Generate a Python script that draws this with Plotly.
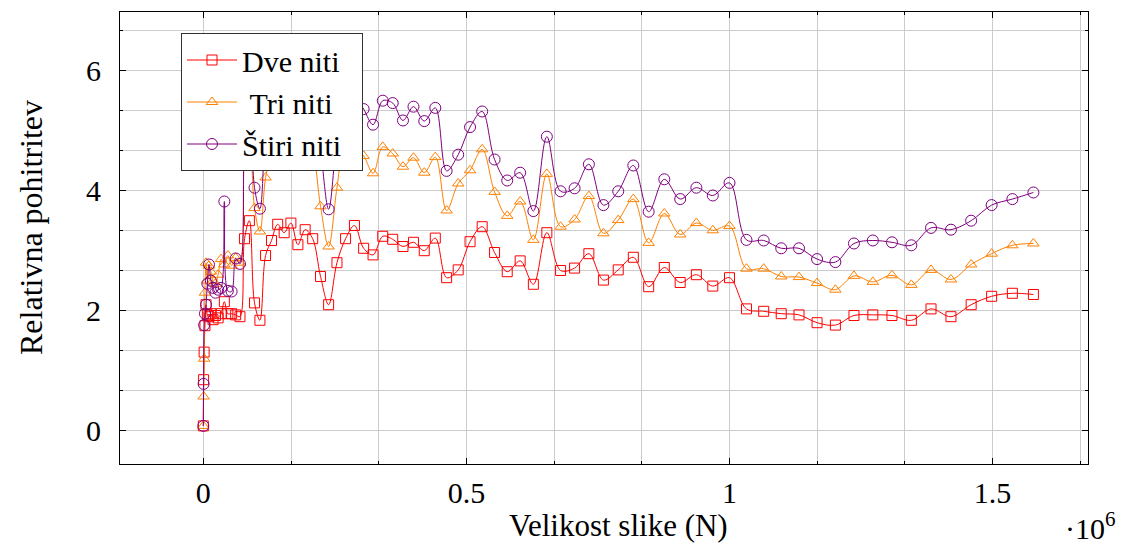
import plotly.graph_objects as go

# Image size N (pixels) for every measurement
velikost = [64, 576, 1600, 3136, 5184, 7744, 10816, 14400, 18496, 23104,
            28224, 33856, 40000, 46656, 53824, 61504, 69696, 78400, 87616, 97344,
            107584, 118336, 129600, 141376, 153664, 166464, 179776, 193600, 207936, 222784,
            238144, 254016, 270400, 287296, 304704, 322624, 341056, 360000, 379456, 399424,
            419904, 440896, 462400, 484416, 506944, 529984, 553536, 577600, 602176, 627264,
            652864, 678976, 705600, 732736, 760384, 788544, 817216, 846400, 876096, 906304,
            937024, 968256, 1000000, 1032256, 1065024, 1098304, 1132096, 1166400, 1201216, 1236544,
            1272384, 1308736, 1345600, 1382976, 1420864, 1459264, 1498176, 1537600, 1577536]

dve_niti = [0.08, 0.85, 1.31, 1.75, 2.10, 1.93, 1.90, 1.95, 1.85, 1.92,
            1.88, 1.95, 2.15, 1.95, 1.95, 1.93, 1.90, 3.20, 3.50, 2.13,
            1.84, 2.92, 3.17, 3.44, 3.30, 3.46, 3.10, 3.35, 3.20, 2.57,
            2.10, 2.80, 3.20, 3.42, 3.04, 2.93, 3.24, 3.19, 3.07, 3.14,
            3.00, 3.21, 2.55, 2.68, 3.15, 3.40, 2.97, 2.65, 2.83, 2.44,
            3.30, 2.67, 2.71, 2.95, 2.51, 2.68, 2.89, 2.40, 2.72, 2.47,
            2.60, 2.41, 2.55, 2.03, 1.99, 1.95, 1.93, 1.80, 1.76, 1.92,
            1.93, 1.92, 1.84, 2.03, 1.90, 2.10, 2.24, 2.29, 2.27]

tri_niti = [0.08, 0.57, 1.20, 2.30, 2.80, 2.50, 2.75, 2.65, 2.50, 2.45,
            2.60, 2.86, 2.77, 2.92, 2.75, 2.88, 2.80, 4.60, 5.10, 3.71,
            3.32, 4.22, 4.65, 5.05, 4.80, 5.10, 4.55, 4.90, 4.65, 3.74,
            3.07, 4.05, 4.85, 4.72, 4.58, 4.29, 4.73, 4.62, 4.40, 4.55,
            4.30, 4.56, 3.67, 4.12, 4.34, 4.69, 3.98, 3.58, 3.82, 3.18,
            4.28, 3.40, 3.52, 3.91, 3.29, 3.51, 3.86, 3.13, 3.62, 3.27,
            3.46, 3.34, 3.41, 2.70, 2.70, 2.57, 2.56, 2.46, 2.35, 2.58,
            2.48, 2.59, 2.43, 2.68, 2.52, 2.77, 2.95, 3.09, 3.12]

stiri_niti = [0.08, 0.78, 1.76, 1.95, 2.10, 2.45, 2.77, 2.50, 2.38, 2.30,
              2.35, 2.38, 3.82, 2.33, 2.32, 2.87, 2.78, 5.40, 6.10, 4.05,
              3.70, 5.00, 5.55, 6.10, 5.80, 6.35, 5.50, 5.95, 5.65, 4.70,
              3.69, 4.90, 5.75, 5.60, 5.36, 5.10, 5.50, 5.46, 5.17, 5.40,
              5.16, 5.38, 4.33, 4.60, 5.06, 5.32, 4.52, 4.17, 4.30, 3.66,
              4.90, 3.99, 4.04, 4.44, 3.76, 3.99, 4.42, 3.65, 4.19, 3.86,
              4.05, 3.92, 4.13, 3.18, 3.17, 3.04, 3.04, 2.86, 2.81, 3.12,
              3.17, 3.14, 3.09, 3.38, 3.35, 3.50, 3.76, 3.86, 3.97]

# legend entries (the reference centres them in the box; no-break spaces pad)
series_names = ["Dve niti\u00a0\u00a0", "\u00a0Tri niti\u00a0\u00a0", "Štiri niti\u00a0\u00a0"]

x_tick_vals = [0, 500000, 1000000, 1500000]
x_tick_text = ["0", "0.5", "1", "1.5"]
y_tick_vals = [0, 2, 4, 6]
y_tick_text = ["0", "2", "4", "6"]

FONT = "Liberation Serif"
GRID = "#cccccc"

# page body has an 8px margin: figure is shrunk so the plot area lands at
# screen x 120..1088, y 12..464
OFF = 8
PL, PR, PT, PB = 120, 1088, 12, 464
W, H = 1126 - OFF, 544 - OFF
PW, PH = PR - PL, PB - PT


def px(xs):
    return (xs - PL) / PW


def py(ys):
    return (PB - ys) / PH


fig = go.Figure()
styles = [
    (dve_niti, "#ff0000", "square-open", 10),
    (tri_niti, "#ff8000", "triangle-up-open", 10),
    (stiri_niti, "#800080", "circle-open", 11),
]
for name, (vals, col, sym, sz) in zip(series_names, styles):
    fig.add_trace(go.Scatter(
        x=velikost, y=vals, name=name, mode="lines+markers",
        line=dict(color=col, width=1, shape="spline", smoothing=1.0),
        marker=dict(symbol=sym, size=sz, color=col, line=dict(color=col, width=1)),
    ))

fig.update_layout(
    width=W, height=H,
    margin=dict(l=PL - OFF, r=1126 - PR, t=PT - OFF, b=544 - PB, autoexpand=False),
    paper_bgcolor="white", plot_bgcolor="white",
    font=dict(family=FONT, size=30, color="black"),
    showlegend=True,
    legend=dict(
        x=px(181), y=py(33), xanchor="left", yanchor="top",
        bgcolor="white", bordercolor="#333333", borderwidth=1,
        font=dict(family=FONT, size=30, color="black"),
        itemwidth=50, tracegroupgap=0,
    ),
    xaxis=dict(
        range=[-158300, 1681300],
        tickmode="array", tickvals=x_tick_vals, ticktext=x_tick_text,
        showgrid=True, gridcolor=GRID, gridwidth=1,
        zeroline=False, showline=True, linecolor="black", linewidth=1, mirror="ticks",
        ticks="inside", ticklen=6, tickcolor="black",
        minor=dict(dtick=1000000 / 6, tick0=0, showgrid=True, gridcolor=GRID,
                   ticks="inside", ticklen=3, tickcolor="black"),
        tickfont=dict(family=FONT, size=30),
        ticklabelstandoff=2,
    ),
    yaxis=dict(
        range=[-0.555, 6.978],
        tickmode="array", tickvals=y_tick_vals, ticktext=y_tick_text,
        showgrid=True, gridcolor=GRID, gridwidth=1,
        zeroline=False, showline=True, linecolor="black", linewidth=1, mirror="ticks",
        ticks="inside", ticklen=6, tickcolor="black",
        minor=dict(dtick=2 / 3, tick0=0, showgrid=True, gridcolor=GRID,
                   ticks="inside", ticklen=3, tickcolor="black"),
        tickfont=dict(family=FONT, size=30),
        ticklabelstandoff=12,
    ),
    annotations=[
        dict(text="Velikost slike (N)", xref="paper", yref="paper",
             x=px(618), y=py(525), xanchor="center", yanchor="middle",
             showarrow=False, font=dict(family=FONT, size=31)),
        dict(text="Relativna pohitritev", xref="paper", yref="paper",
             x=px(31), y=py(228), xanchor="center", yanchor="middle",
             textangle=-90, showarrow=False, font=dict(family=FONT, size=32)),
        dict(text="·10<sup>6</sup>", xref="paper", yref="paper",
             x=px(1118), y=py(526), xanchor="right", yanchor="middle",
             showarrow=False, font=dict(family=FONT, size=30)),
    ],
)

fig.write_html("out.html")
